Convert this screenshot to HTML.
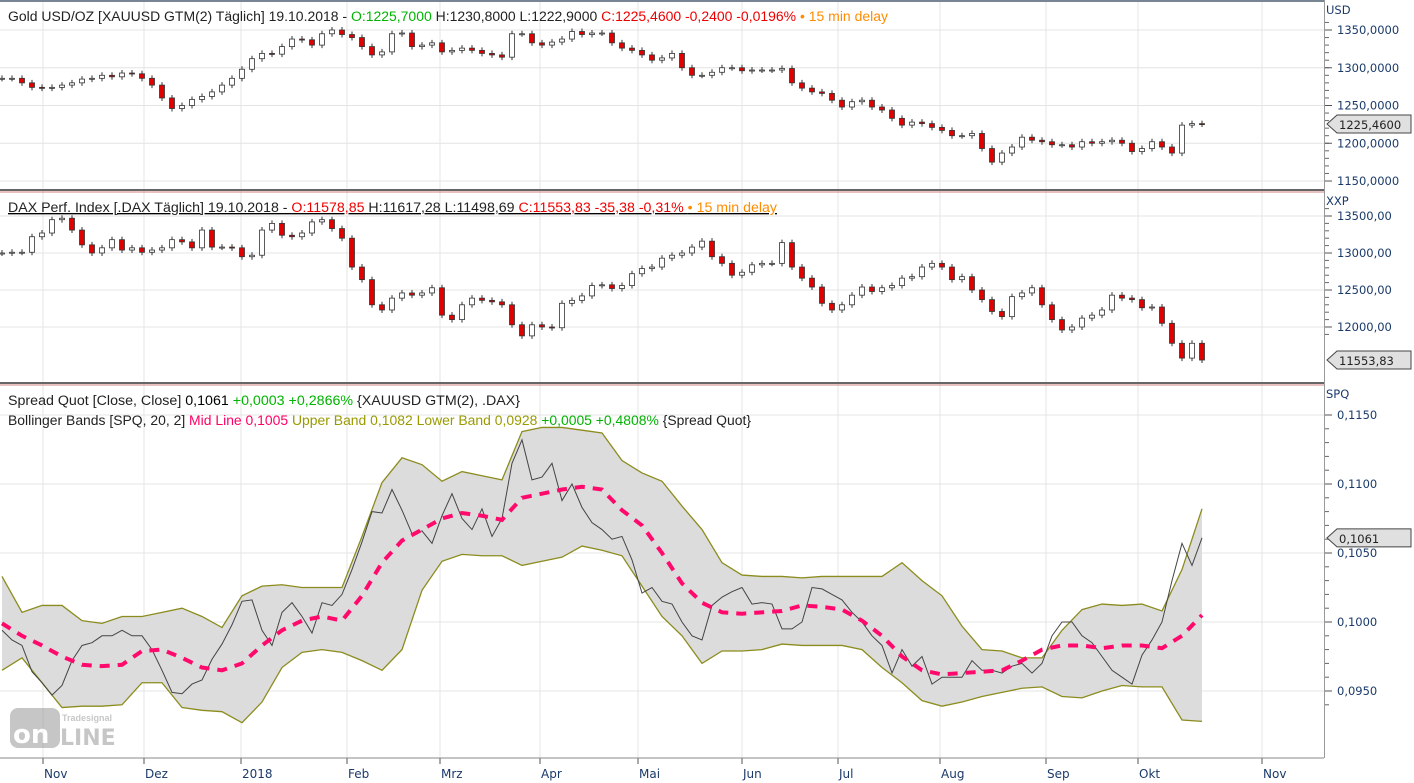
<!DOCTYPE html>
<html><head><meta charset="utf-8"><style>
html,body{margin:0;padding:0;background:#fff;}
svg{display:block;font-family:"Liberation Sans",sans-serif;}
.ax{font-family:"DejaVu Sans",sans-serif;font-size:11.5px;fill:#1a3a6a;}
.xl{font-family:"DejaVu Sans",sans-serif;font-size:12px;fill:#1a3a6a;}
</style></head><body>
<svg id="chart" width="1414" height="783" viewBox="0 0 1414 783" xmlns="http://www.w3.org/2000/svg">
<rect x="0" y="0" width="1414" height="783" fill="#fff"/>
<g id="grid"></g>
<g id="bands"></g>
<g id="candles"></g>
<g id="axes"></g>
<line x1="0" y1="1" x2="1324" y2="1" stroke="#7a8594" stroke-width="2"/>
<line x1="0" y1="190" x2="1324" y2="190" stroke="#666" stroke-width="2"/>
<line x1="0" y1="192" x2="1324" y2="192" stroke="#d08080" stroke-width="1"/>
<line x1="0" y1="383" x2="1324" y2="383" stroke="#666" stroke-width="2"/>
<line x1="0" y1="385" x2="1324" y2="385" stroke="#d08080" stroke-width="1"/>
<line x1="1324.5" y1="0" x2="1324.5" y2="758" stroke="#999"/>
<line x1="0" y1="758" x2="1324" y2="758" stroke="#888"/>

<text x="8" y="21" font-size="13.5" textLength="880" lengthAdjust="spacingAndGlyphs"><tspan fill="#222">Gold USD/OZ [XAUUSD GTM(2) Täglich] 19.10.2018 - </tspan><tspan fill="#00b400">O:1225,7000 </tspan><tspan fill="#222">H:1230,8000 L:1222,9000 </tspan><tspan fill="#ee0000">C:1225,4600 -0,2400 -0,0196% </tspan><tspan fill="#ff8c00">• 15 min delay</tspan></text>
<text x="8" y="212" font-size="13.5" textLength="769" lengthAdjust="spacingAndGlyphs" text-decoration="underline"><tspan fill="#222">DAX Perf. Index [.DAX Täglich] 19.10.2018 - </tspan><tspan fill="#ee0000">O:11578,85 </tspan><tspan fill="#222">H:11617,28 L:11498,69 </tspan><tspan fill="#ee0000">C:11553,83 -35,38 -0,31% </tspan><tspan fill="#ff8c00">• 15 min delay</tspan></text>
<text x="8" y="405" font-size="13.5" textLength="512" lengthAdjust="spacingAndGlyphs"><tspan fill="#222">Spread Quot [Close, Close] </tspan><tspan fill="#000">0,1061 </tspan><tspan fill="#00b400">+0,0003 +0,2866% </tspan><tspan fill="#222">{XAUUSD GTM(2), .DAX}</tspan></text>
<text x="8" y="425" font-size="13.5" textLength="743" lengthAdjust="spacingAndGlyphs"><tspan fill="#222">Bollinger Bands [SPQ, 20, 2] </tspan><tspan fill="#ff0066">Mid Line 0,1005 </tspan><tspan fill="#9a9a00">Upper Band 0,1082 Lower Band 0,0928 </tspan><tspan fill="#00b400">+0,0005 +0,4808% </tspan><tspan fill="#222">{Spread Quot}</tspan></text>

<g opacity="0.55">
<rect x="10" y="708" width="50" height="40" rx="8" fill="#999"/>
<text x="13" y="743" font-size="26" font-weight="bold" fill="#fff" font-family="DejaVu Sans,sans-serif">on</text>
<text x="62" y="721" font-size="9" font-weight="bold" fill="#999">Tradesignal</text>
<text x="60" y="745" font-size="22" font-weight="bold" fill="#999" font-family="DejaVu Sans,sans-serif">LINE</text>
</g>
</svg>
<script>
// ---- data: one sample roughly every 2 trading days, 19.10.2017 .. 19.10.2018 ----
const goldClose=[1286,1286,1280,1274,1273,1274,1277,1280,1285,1286,1290,1288,1293,1292,1286,1277,1260,1246,1250,1258,1262,1268,1277,1286,1298,1312,1319,1318,1328,1338,1337,1330,1345,1350,1344,1340,1328,1317,1321,1345,1346,1328,1330,1333,1321,1323,1326,1323,1319,1317,1314,1345,1345,1333,1330,1334,1338,1348,1344,1346,1346,1333,1326,1323,1317,1310,1313,1319,1300,1290,1290,1294,1300,1300,1296,1297,1297,1297,1299,1280,1273,1268,1266,1257,1248,1255,1257,1248,1244,1233,1224,1228,1226,1221,1217,1210,1210,1213,1193,1175,1187,1195,1208,1204,1202,1198,1198,1195,1202,1200,1202,1204,1200,1189,1193,1202,1195,1187,1224,1226,1225.46];
const daxClose=[13000,13010,13010,13220,13270,13450,13470,13310,13110,13000,13070,13180,13040,13070,13010,13040,13070,13180,13150,13070,13310,13080,13080,13070,12950,12970,13310,13400,13240,13220,13270,13420,13450,13330,13200,12810,12640,12300,12230,12390,12460,12430,12460,12530,12160,12100,12300,12390,12360,12340,12300,12030,11880,12030,12000,11990,12320,12360,12420,12560,12570,12520,12560,12720,12790,12810,12930,12970,13000,13080,13160,12950,12860,12700,12740,12840,12860,12860,13140,12810,12660,12540,12320,12230,12300,12430,12540,12480,12530,12560,12660,12680,12810,12860,12810,12640,12680,12500,12370,12210,12140,12410,12460,12530,12300,12100,11960,12000,12120,12160,12230,12430,12390,12370,12260,12270,12050,11780,11580,11780,11553.83];
const spread=[.0994,.0987,.0983,.0964,.0956,.0947,.0954,.0972,.0983,.0985,.0990,.0990,.0994,.0990,.0990,.0980,.0965,.0949,.0948,.0955,.0958,.0973,.0984,.0998,.1015,.1016,.0994,.0983,.1007,.1014,.1004,.0992,.1014,.1012,.1020,.1038,.1058,.1080,.1079,.1096,.1081,.1064,.1066,.1057,.1077,.1093,.1075,.1067,.1082,.1062,.1075,.1115,.1132,.1103,.1105,.1115,.1088,.1100,.1083,.1072,.1067,.1060,.1062,.1045,.1021,.1025,.1015,.1013,.1000,.0990,.0987,.1012,.1018,.1022,.1025,.1013,.1014,.1013,.0995,.0995,.1000,.1025,.1024,.1020,.1016,.1007,.1000,.0990,.0983,.0963,.0980,.0968,.0975,.0955,.0960,.0960,.0960,.0972,.0965,.0965,.0963,.0968,.0970,.0963,.0970,.0990,.1000,.1000,.0990,.0985,.0975,.0965,.0960,.0955,.0976,.0987,.1000,.1030,.1057,.1041,.1061];
// band samples every 2nd spread sample
const upperBand=[.1033,.1007,.1012,.1012,.1001,.0999,.1004,.1004,.1007,.1010,.1004,.0996,.1019,.1026,.1027,.1025,.1025,.1025,.1062,.1101,.1119,.1114,.1102,.1109,.1106,.1103,.1138,.1141,.1141,.1139,.1137,.1117,.1108,.1102,.1084,.1067,.1043,.1034,.1033,.1033,.1032,.1033,.1033,.1033,.1033,.1043,.1030,.1019,.0997,.0980,.0979,.0974,.0974,.0994,.1009,.1013,.1012,.1013,.1008,.1038,.1082];
const lowerBand=[.0965,.0974,.0956,.0938,.0939,.0939,.0940,.0956,.0956,.0938,.0936,.0935,.0927,.0942,.0967,.0978,.0980,.0978,.0972,.0965,.0980,.1023,.1044,.1049,.1048,.1048,.1041,.1044,.1047,.1055,.1052,.1048,.1026,.1004,.0990,.0970,.0979,.0979,.0980,.0984,.0983,.0983,.0983,.0980,.0967,.0956,.0943,.0939,.0942,.0946,.0949,.0952,.0953,.0946,.0945,.0950,.0954,.0953,.0953,.0929,.0928];
const midLine=[.0999,.0990,.0983,.0975,.0969,.0968,.0969,.0979,.0980,.0974,.0967,.0965,.0970,.0983,.0994,.1001,.1004,.1001,.1019,.1043,.1059,.1067,.1075,.1079,.1077,.1074,.1090,.1093,.1096,.1098,.1096,.1081,.1070,.1050,.1028,.1014,.1007,.1006,.1007,.1008,.1012,.1011,.1009,.1001,.0990,.0975,.0965,.0962,.0963,.0964,.0965,.0972,.0980,.0983,.0983,.0981,.0983,.0983,.0981,.0990,.1005];
// month ticks, in sample units
const monthLabels=["Nov","Dez","2018","Feb","Mrz","Apr","Mai","Jun","Jul","Aug","Sep","Okt","Nov"];
const monthPos=[4.1,14.2,23.9,34.5,43.8,53.8,63.6,74,83.6,93.8,104.4,113.6,126];
const goldTicks=[1150,1200,1250,1300,1350];
const goldTickLabels=["1150,0000","1200,0000","1250,0000","1300,0000","1350,0000"];
const daxTicks=[12000,12500,13000,13500];
const daxTickLabels=["12000,00","12500,00","13000,00","13500,00"];
const spqTicks=[0.095,0.1,0.105,0.11,0.115];
const spqTickLabels=["0,0950","0,1000","0,1050","0,1100","0,1150"];

const NS="http://www.w3.org/2000/svg";
function mk(tag,attrs,parent){const e=document.createElementNS(NS,tag);for(const k in attrs)e.setAttribute(k,attrs[k]);parent.appendChild(e);return e;}
const x=i=>2+i*10;
const yGold=v=>30+(1350-v)*(151/200);
const yDax=v=>216+(13500-v)*(148/2000);
const ySpq=v=>622-(v-0.1)*13800;

const grid=document.getElementById('grid'),bands=document.getElementById('bands'),cg=document.getElementById('candles'),axes=document.getElementById('axes');

// vertical grid + x labels
monthPos.forEach((p,i)=>{
  const l=mk('line',{x1:x(p),y1:2,x2:x(p),y2:758,stroke:'#e4e4e4'},grid);
  
  
  const t=mk('line',{x1:x(p),y1:758,x2:x(p),y2:764,stroke:'#555'},axes);
  
  
  const tx=mk('text',{x:x(p)+1,y:778,class:'xl'},axes);
  tx.textContent=monthLabels[i];
  
  
});
function yAxis(ticks,labels,yf,top,bot,unit,uy){
  const u=mk('text',{x:1326,y:uy,class:'ax'},axes);u.textContent=unit;
  
  
  const step=ticks[1]-ticks[0];
  for(let k=-1;k<ticks.length*5+5;k++){
    const v=ticks[0]+k*step/5,y=yf(v);
    if(y<top||y>bot)continue;
    mk('line',{x1:1325,y1:y,x2:1329,y2:y,stroke:'#666'},axes);
  }
  ticks.forEach((v,i)=>{
    const y=yf(v);if(y<top||y>bot)return;
    const g=mk('line',{x1:0,y1:y,x2:1324,y2:y,stroke:'#e4e4e4'},grid);
    
    
    mk('line',{x1:1325,y1:y,x2:1332,y2:y,stroke:'#555'},axes);
    const t=mk('text',{x:1337,y:y+4,class:'ax'},axes);t.textContent=labels[i];
    
    
  });
}
yAxis(goldTicks,goldTickLabels,yGold,22,188,'USD',14);
yAxis(daxTicks,daxTickLabels,yDax,205,380,'XXP',205);
yAxis(spqTicks,spqTickLabels,ySpq,405,756,'SPQ',398);

function marker(y,label,name){
  const g=mk('g',{},axes);
  
  
  mk('path',{d:`M1327 ${y} L1337 ${y-9} L1411 ${y-9} L1411 ${y+9} L1337 ${y+9} Z`,fill:'#e0e0e0',stroke:'#444'},g);
  const t=mk('text',{x:1339,y:y+5,class:'ax',fill:'#222'},g);t.textContent=label;t.style.fill='#222';
}

// candles
function candles(arr,yf,name){
  arr.forEach((c,i)=>{
    const o=i?arr[i-1]:c;
    const y1=yf(Math.max(o,c)),y2=yf(Math.min(o,c));
    const g=mk('g',{},cg);
    
    
    mk('line',{x1:x(i),y1:y1-3,x2:x(i),y2:y2+3,stroke:'#333'},g);
    mk('rect',{x:x(i)-2.5,y:y1,width:5,height:Math.max(1,y2-y1),fill:c<o?'#e00000':'#fff',stroke:'#333','stroke-width':0.8},g);
  });
}
candles(goldClose,yGold,'gold-candle');
candles(daxClose,yDax,'dax-candle');

// bollinger
const bx=k=>x(2*k);
let d='';
upperBand.forEach((v,k)=>{d+=(k?'L':'M')+bx(k)+' '+ySpq(v);});
for(let k=lowerBand.length-1;k>=0;k--)d+='L'+bx(k)+' '+ySpq(lowerBand[k]);
const area=mk('path',{d:d+'Z',fill:'#dcdcdc'},bands);


function line(arr,xf,attrs,name){
  const p=mk('polyline',Object.assign({points:arr.map((v,k)=>xf(k)+','+ySpq(v)).join(' '),fill:'none'},attrs),bands);
  
  
}
line(upperBand,bx,{stroke:'#8c8c1e','stroke-width':1.3},'upper-band');
line(lowerBand,bx,{stroke:'#8c8c1e','stroke-width':1.3},'lower-band');
line(spread,x,{stroke:'#444','stroke-width':1},'spread-line');
line(midLine,bx,{stroke:'#ff0a6c','stroke-width':4,'stroke-dasharray':'10 8'},'mid-line');

marker(yGold(goldClose[goldClose.length-1]),'1225,4600','gold-last-marker');
marker(yDax(daxClose[daxClose.length-1]),'11553,83','dax-last-marker');
marker(ySpq(spread[spread.length-1]),'0,1061','spq-last-marker');
</script>
</body></html>
